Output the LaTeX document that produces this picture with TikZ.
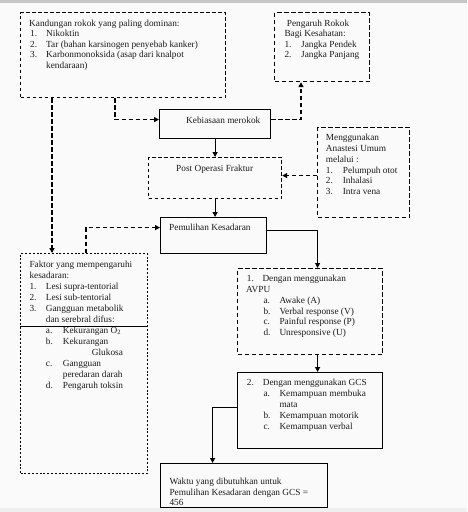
\documentclass[tikz,border=0pt]{standalone}
\usepackage{fontspec}
\setmainfont{Liberation Serif}
\usetikzlibrary{arrows.meta}
\definecolor{pagebg}{HTML}{FAFAFA}
\definecolor{topbar}{HTML}{C6C6C6}
\definecolor{botbar}{HTML}{EFEFEF}
\definecolor{ink}{HTML}{1A1A1A}
\tikzset{
  box/.style={draw=black, inner sep=0pt, anchor=north west, line width=1.2pt},
  dashA/.style={dash pattern=on 4.5pt off 2.5pt},
  dashB/.style={dash pattern=on 3.5pt off 2.5pt},
  dashC/.style={dash pattern=on 2pt off 1.8pt, line width=1pt},
  txt/.style={anchor=base west, inner sep=0pt, text=ink, font=\fontsize{9.3}{10.7}\selectfont},
  conn/.style={line width=1.2pt, -{Triangle[length=5pt,width=5pt]}},
}
\newcommand{\tx}[4]{\node[txt] (#1) at (#2,#3) {#4};}
\begin{document}
\begin{tikzpicture}[x=1pt,y=-1pt]
\useasboundingbox (0,0) rectangle (467,512);
\fill[pagebg] (0,0) rectangle (467,512);
\fill[topbar] (0,0) rectangle (467,2.7);
\fill[botbar] (0,508) rectangle (467,512);

% boxes
\node[box, dashB, minimum width=205pt, minimum height=85pt] (box1) at (20,12) {};
\node[box, dashA, minimum width=95pt, minimum height=69pt] (box2) at (274,12) {};
\node[box, minimum width=111pt, minimum height=29pt] (keb) at (159,109) {};
\node[box, dashB, minimum width=133pt, minimum height=41pt] (postop) at (148,157) {};
\node[box, dashA, minimum width=92pt, minimum height=90pt] (mengg) at (317,127) {};
\node[box, minimum width=106pt, minimum height=36pt] (pem) at (160,217) {};
\node[box, dashC, minimum width=127pt, minimum height=220pt] (faktor) at (20,253) {};
\node[box, dashA, minimum width=145pt, minimum height=86pt] (avpu) at (237,268) {};
\node[box, minimum width=145pt, minimum height=76pt] (gcs) at (237,372) {};
\node[box, minimum width=167pt, minimum height=44pt] (waktu) at (160,463) {};

% divider in faktor box
\draw[line width=1pt] ([yshift=-73pt]faktor.north west) -- ([yshift=-73pt]faktor.north east);

% texts box1
\tx{a0}{29}{26}{Kandungan rokok yang paling dominan:}
\tx{a1n}{30}{36.5}{1.}\tx{a1}{46}{36.5}{Nikoktin}
\tx{a2n}{30}{47}{2.}\tx{a2}{46}{47}{Tar (bahan karsinogen penyebab kanker)}
\tx{a3n}{30}{57.5}{3.}\tx{a3}{46}{57.5}{Karbonmonoksida (asap dari knalpot}
\tx{a4}{46}{68}{kendaraan)}
% box2
\tx{b0}{286.7}{26.5}{Pengaruh Rokok}
\tx{b1}{284.3}{36.8}{Bagi Kesahatan:}
\tx{b2n}{284.3}{47}{1.}\tx{b2}{301}{47}{Jangka Pendek}
\tx{b3n}{284.3}{57.5}{2.}\tx{b3}{301}{57.5}{Jangka Panjang}
% keb, postop, pem
\tx{c0}{186}{123}{Kebiasaan merokok}
\tx{d0}{176}{171}{Post Operasi Fraktur}
\tx{e0}{169}{230.5}{Pemulihan Kesadaran}
% mengg
\tx{m0}{325.7}{140.5}{Menggunakan}
\tx{m1}{325.7}{151.5}{Anastesi Umum}
\tx{m2}{325.7}{162.5}{melalui :}
\tx{m3n}{325.7}{173}{1.}\tx{m3}{342.7}{173}{Pelumpuh otot}
\tx{m4n}{325.7}{183.5}{2.}\tx{m4}{342.7}{183.5}{Inhalasi}
\tx{m5n}{325.7}{194.5}{3.}\tx{m5}{342.7}{194.5}{Intra vena}
% faktor
\tx{f0}{29.3}{267.3}{Faktor yang mempengaruhi}
\tx{f1}{29.3}{278}{kesadaran:}
\tx{f2n}{29.3}{289.7}{1.}\tx{f2}{45.7}{289.7}{Lesi supra-tentorial}
\tx{f3n}{29.3}{300.7}{2.}\tx{f3}{45.7}{300.7}{Lesi sub-tentorial}
\tx{f4n}{29.3}{311.7}{3.}\tx{f4}{45.7}{311.7}{Gangguan metabolik}
\tx{f5}{45.7}{322.3}{dan serebral difus:}
\tx{f6n}{45.7}{333}{a.}\tx{f6}{62.7}{333}{Kekurangan O\textsubscript{2}}
\tx{f7n}{45.7}{344}{b.}\tx{f7}{62.7}{344}{Kekurangan}
\tx{f8}{91.7}{355.3}{Glukosa}
\tx{f9n}{45.7}{366.3}{c.}\tx{f9}{62.7}{366.3}{Gangguan}
\tx{f10}{62.7}{377}{peredaran darah}
\tx{f11n}{45.7}{388}{d.}\tx{f11}{62.7}{388}{Pengaruh toksin}
% avpu
\tx{v0n}{246.7}{281.3}{1.}\tx{v0}{262.3}{281.3}{Dengan menggunakan}
\tx{v1}{246}{292}{AVPU}
\tx{v2n}{263.3}{303}{a.}\tx{v2}{279.3}{303}{Awake (A)}
\tx{v3n}{263.3}{314}{b.}\tx{v3}{279.3}{314}{Verbal response (V)}
\tx{v4n}{263.3}{324.7}{c.}\tx{v4}{279.3}{324.7}{Painful response (P)}
\tx{v5n}{263.3}{335.7}{d.}\tx{v5}{279.3}{335.7}{Unresponsive (U)}
% gcs
\tx{g0n}{246.7}{385.7}{2.}\tx{g0}{262.7}{385.7}{Dengan menggunakan GCS}
\tx{g1n}{263.3}{396.3}{a.}\tx{g1}{279.3}{396.3}{Kemampuan membuka}
\tx{g2}{279.3}{407}{mata}
\tx{g3n}{263.3}{418}{b.}\tx{g3}{279.3}{418}{Kemampuan motorik}
\tx{g4n}{263.3}{429}{c.}\tx{g4}{279.3}{429}{Kemampuan verbal}
% waktu
\tx{w0}{169.3}{484}{Waktu yang dibutuhkan untuk}
\tx{w1}{169.3}{495}{Pemulihan Kesadaran dengan GCS =}
\tx{w2}{169.3}{505.5}{456}

% helper coordinates
\coordinate (pe) at ([yshift=2.5pt]postop.east);
% connectors
\draw[conn, dashA] ([xshift=32pt]box1.south west) -- ([xshift=32pt]faktor.north west);
\draw[conn, dashA] ([xshift=95pt]box1.south west) |- ([yshift=4.5pt]keb.west);
\draw[conn, dashA] ([yshift=4.5pt]keb.east) -| ([xshift=27pt]box2.south west);
\draw[conn] (keb.south) -- (keb.south |- postop.north);
\draw[conn, dashA] (mengg.west |- pe) -- (pe);
\draw[conn] (postop.south) -- (postop.south |- pem.north);
\draw[conn, dashA] ([xshift=66pt]faktor.north west) |- ([yshift=8pt]pem.west);
\draw[conn, line width=1pt] ([yshift=5pt]pem.east) -| ([xshift=7.5pt]avpu.north);
\draw[conn] ([xshift=7.5pt]avpu.south) -- ([xshift=7.5pt]gcs.north);
\draw[conn] ([yshift=3pt]gcs.west) -| ([xshift=-31.5pt]waktu.north);
\end{tikzpicture}
\end{document}
